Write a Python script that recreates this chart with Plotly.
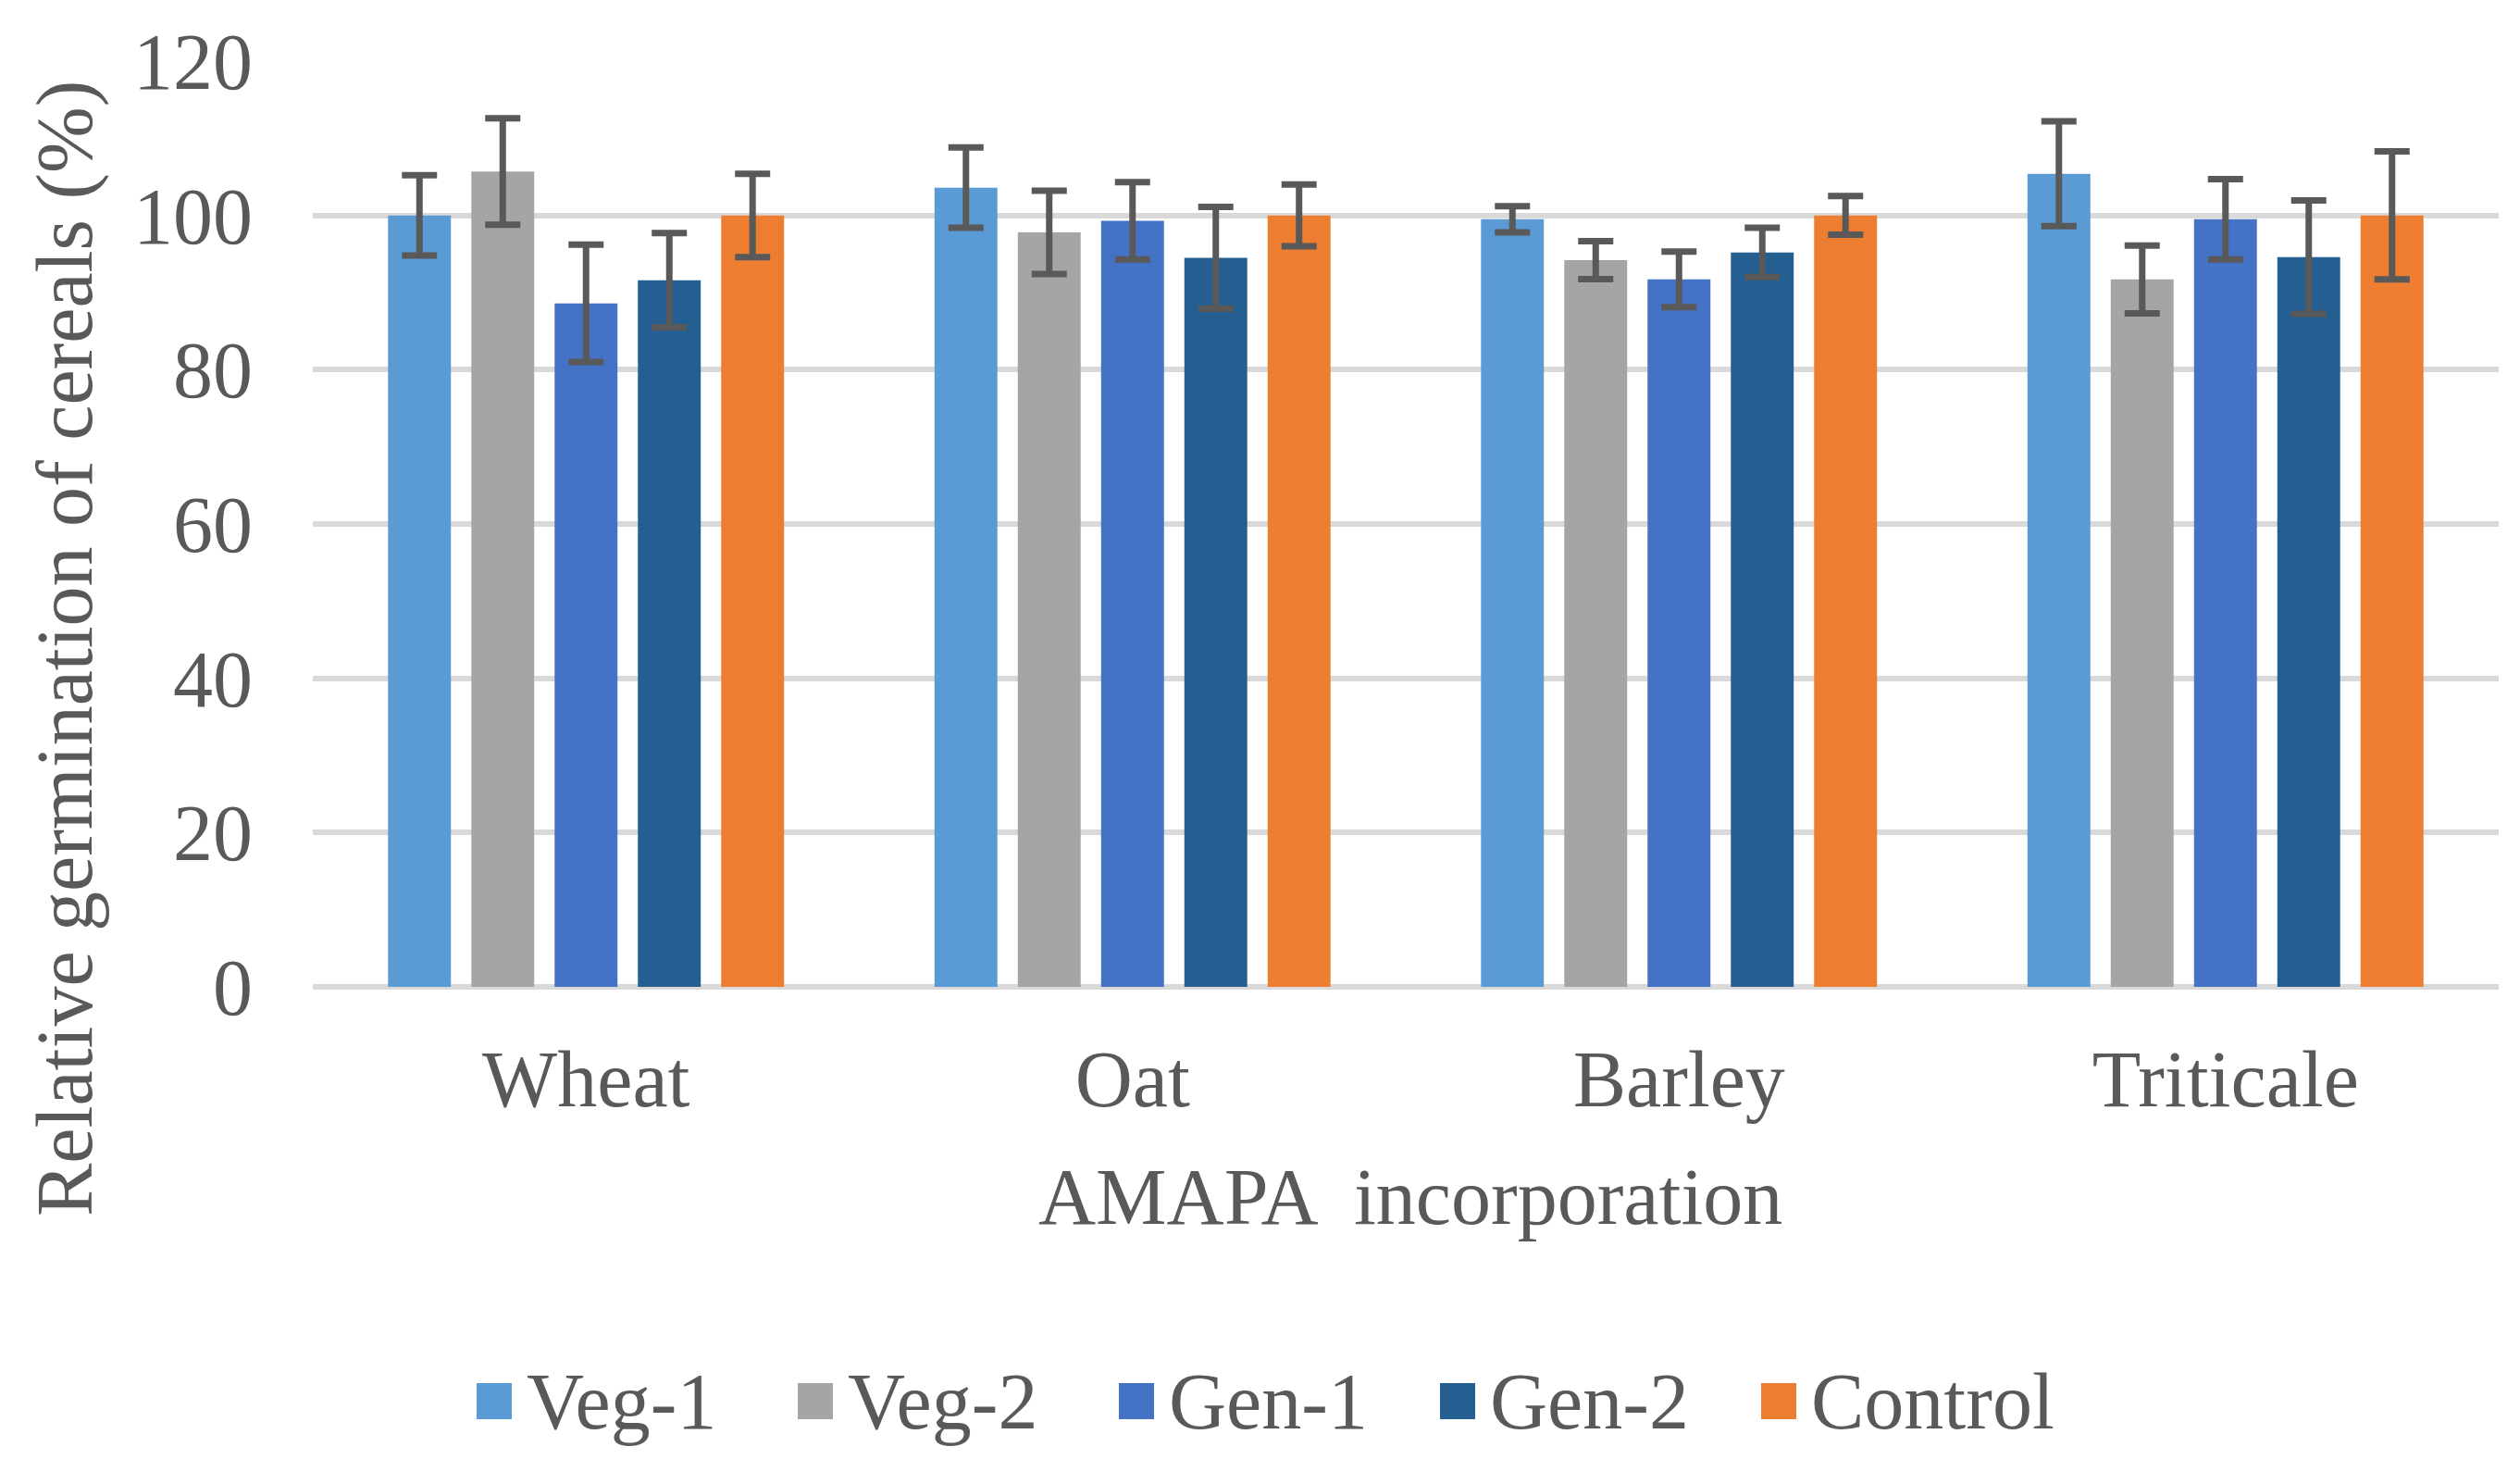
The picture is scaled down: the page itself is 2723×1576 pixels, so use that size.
import plotly.graph_objects as go

# cereals on the x axis, one bar per treatment
cereals = ["Wheat", "Oat", "Barley", "Triticale"]
series_names = ["Veg-1", "Veg-2", "Gen-1", "Gen-2", "Control"]
series_colors = ["#5B9BD5", "#A5A5A5", "#4472C4", "#255E91", "#ED7D31"]

veg1 = [100.0, 103.6, 99.5, 105.4]
veg2 = [105.7, 97.8, 94.2, 91.7]
gen1 = [88.6, 99.3, 91.7, 99.5]
gen2 = [91.6, 94.5, 95.2, 94.6]
control = [100.0, 100.0, 100.0, 100.0]

veg1_err = [5.2, 5.2, 1.7, 6.8]
veg2_err = [6.9, 5.4, 2.45, 4.4]
gen1_err = [7.6, 5.0, 3.6, 5.2]
gen2_err = [6.1, 6.6, 3.2, 7.35]
control_err = [5.4, 4.0, 2.5, 8.3]

y_ticks = [0, 20, 40, 60, 80, 100, 120]

values = [veg1, veg2, gen1, gen2, control]
errors = [veg1_err, veg2_err, gen1_err, gen2_err, control_err]

FONT = "Liberation Serif, Times New Roman, serif"
TEXT = "#595959"
FS = 86

W, H = 2723, 1576
L, R, T, B = 330, 31, 58, 518
pw, ph = W - L - R, H - T - B


def px_x(x):
    return (x - L) / pw


def px_y(y):
    return (H - B - y) / ph


fig = go.Figure()
for name, color, vals, err in zip(series_names, series_colors, values, errors):
    fig.add_trace(go.Bar(
        name=name, x=cereals, y=vals, marker=dict(color=color, line=dict(width=0)),
        error_y=dict(type="data", array=err, visible=True, color=TEXT, thickness=7, width=19),
    ))

# legend drawn by hand so the swatches can be as big as in the original
shapes = []
annotations = []
for i, (name, color) in enumerate(zip(series_names, series_colors)):
    x0 = 507 + i * 347
    shapes.append(dict(type="rect", xref="paper", yref="paper",
                       x0=px_x(x0), x1=px_x(x0 + 38), y0=px_y(1525), y1=px_y(1486),
                       fillcolor=color, line=dict(width=0)))
    annotations.append(dict(xref="paper", yref="paper", x=px_x(x0 + 52), y=px_y(1506),
                            text=name, showarrow=False, xanchor="left", yanchor="middle",
                            font=dict(family=FONT, size=FS, color=TEXT)))

annotations.append(dict(xref="paper", yref="paper", x=px_x(1516), y=px_y(1285),
                        text="AMAPA  incorporation", showarrow=False,
                        xanchor="center", yanchor="middle",
                        font=dict(family=FONT, size=FS, color=TEXT)))
annotations.append(dict(xref="paper", yref="paper", x=px_x(62), y=px_y(693),
                        text="Relative germination of cereals (%)", showarrow=False, textangle=-90,
                        xanchor="center", yanchor="middle",
                        font=dict(family=FONT, size=FS, color=TEXT)))

fig.update_layout(
    width=W, height=H,
    margin=dict(l=L, r=R, t=T, b=B, pad=0),
    paper_bgcolor="white", plot_bgcolor="white",
    barmode="group", bargap=0.238, bargroupgap=0.245,
    showlegend=False,
    shapes=shapes, annotations=annotations,
    font=dict(family=FONT, size=FS, color=TEXT),
)
fig.update_yaxes(range=[0, 120], tickvals=y_ticks, showgrid=True, gridcolor="#D9D9D9", gridwidth=6,
                 zeroline=True, zerolinecolor="#D9D9D9", zerolinewidth=6,
                 showline=False, ticks="", ticklabelstandoff=64,
                 tickfont=dict(family=FONT, size=FS, color=TEXT))
fig.update_xaxes(showgrid=False, showline=False, ticks="", ticklabelstandoff=42,
                 tickfont=dict(family=FONT, size=FS, color=TEXT))

fig.write_html("out.html")
